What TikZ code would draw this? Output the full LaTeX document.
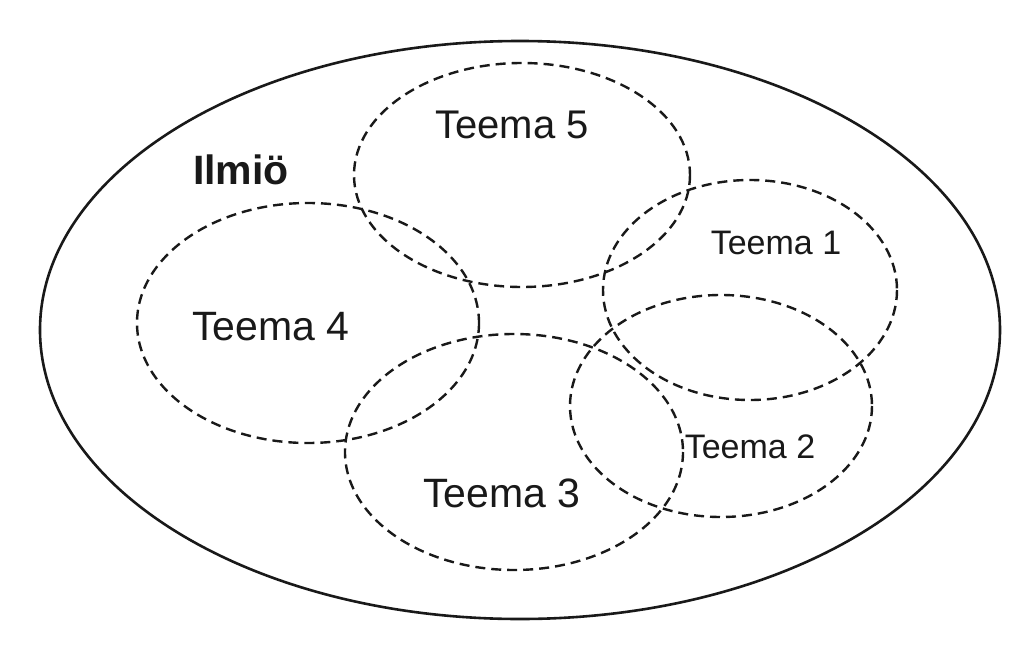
\documentclass[tikz,border=0pt]{standalone}
\usepackage{fontspec}
\setmainfont{Liberation Sans}
\usetikzlibrary{shapes.geometric}
\begin{document}
\begin{tikzpicture}[x=1pt,y=-1pt,
  outer/.style={draw=black!90,line width=2.6pt},
  theme/.style={draw=black!90,line width=2.4pt,dash pattern=on 10pt off 6pt},
  lbl/.style={inner sep=0pt,text=black!90}]
\useasboundingbox[fill=white] (0,0) rectangle (1026,653);
\draw[outer] (520,330) ellipse [x radius=480, y radius=289];
\draw[theme] (522,175) ellipse [x radius=168, y radius=112];
\draw[theme] (750,290) ellipse [x radius=147, y radius=110];
\draw[theme] (308,323) ellipse [x radius=171, y radius=120];
\draw[theme] (514,452) ellipse [x radius=169, y radius=118];
\draw[theme] (721,406) ellipse [x radius=151, y radius=111];
\node[lbl,font=\fontsize{41}{48}\selectfont\bfseries] (ilmio) at (241,170) {Ilmiö};
\node[lbl,font=\fontsize{40}{48}\selectfont] (t5) at (512,125) {Teema 5};
\node[lbl,font=\fontsize{34}{40}\selectfont] (t1) at (776,243) {Teema 1};
\node[lbl,font=\fontsize{41}{48}\selectfont] (t4) at (271,327) {Teema 4};
\node[lbl,font=\fontsize{41}{48}\selectfont] (t3) at (502,493) {Teema 3};
\node[lbl,font=\fontsize{34}{40}\selectfont] (t2) at (750,447) {Teema 2};
\end{tikzpicture}
\end{document}
